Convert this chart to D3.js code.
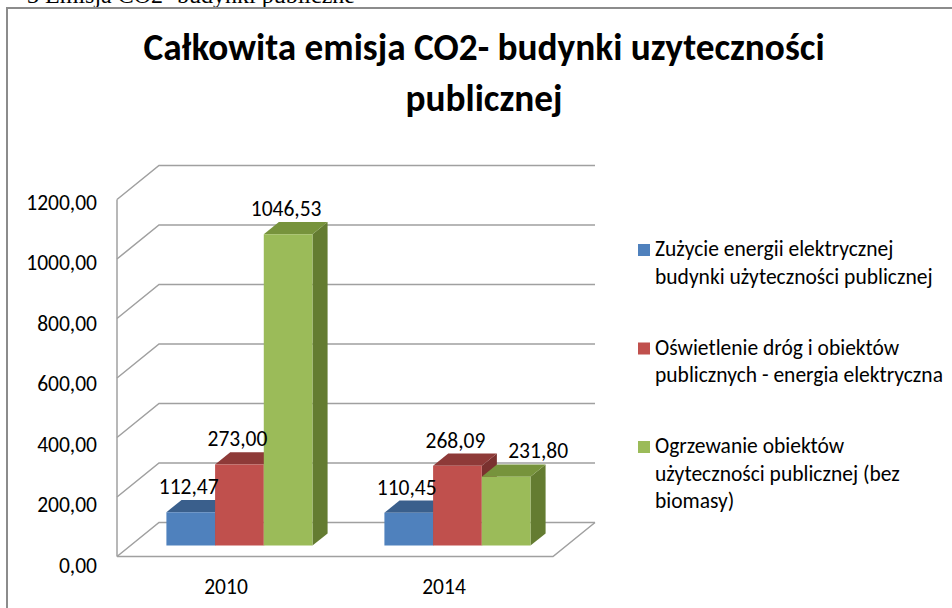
<!DOCTYPE html>
<html>
<head>
<meta charset="utf-8">
<style>
    body {
        margin: 0;
        background: #fff;
    }
    svg text {
        font-family: Carlito, Calibri, Lato, sans-serif;
        fill: #000;
    }
    .caption {
        font-family: "Liberation Serif", "Times New Roman", serif !important;
        font-size: 24px;
    }
    .title {
        font-size: 37.3px;
        font-weight: bold;
        text-anchor: middle;
    }
    .tick-label, .value-label, .cat-label {
        font-size: 21.5px;
    }
    .legend-label {
        font-size: 21.5px;
    }
    .grid {
        fill: none;
        stroke: #a0a0a0;
        stroke-width: 1.5;
    }
</style>
</head>
<body>
<svg id="viz" width="952" height="608"></svg>

<script src="https://cdnjs.cloudflare.com/ajax/libs/d3/7.8.5/d3.min.js"></script>
<script>
    // data
    var years = ['2010', '2014'];
    var seriesNames = [
        'Zużycie energii elektrycznej budynki użyteczności publicznej',
        'Oświetlenie dróg i obiektów publicznych - energia elektryczna',
        'Ogrzewanie obiektów użyteczności publicznej (bez biomasy)'
    ];
    var legendLines = [
        ['Zużycie energii elektrycznej', 'budynki użyteczności publicznej'],
        ['Oświetlenie dróg i obiektów', 'publicznych - energia elektryczna'],
        ['Ogrzewanie obiektów', 'użyteczności publicznej (bez', 'biomasy)']
    ];
    var elektrycznaBudynki = [112.47, 110.45];
    var oswietlenie = [273.00, 268.09];
    var ogrzewanie = [1046.53, 231.80];
    var seriesValues = [elektrycznaBudynki, oswietlenie, ogrzewanie];
    var yTicks = [0, 200, 400, 600, 800, 1000, 1200];
    var titleLines = ['Całkowita emisja CO2- budynki uzyteczności', 'publicznej'];

    // colors: front, top, side
    var colors = [
        { front: '#4f81bd', top: '#3a5f8c', side: '#30507a' },
        { front: '#c0504d', top: '#8e3a38', side: '#7a312f' },
        { front: '#9bbb59', top: '#77933c', side: '#647c31' }
    ];

    var svg = d3.select('#viz');
    var fmt = function(v) { return d3.format('.2f')(v).replace('.', ','); };

    // caption above the chart frame (cut off at the top)
    svg.append('text')
        .attr('class', 'caption')
        .attr('x', 355)
        .attr('y', 3)
        .attr('text-anchor', 'end')
        .text('3 Emisja CO2 -budynki publiczne');

    // chart frame
    svg.append('rect')
        .attr('x', 7)
        .attr('y', 8)
        .attr('width', 1000)
        .attr('height', 700)
        .attr('fill', '#fff')
        .attr('stroke', '#8c8c8c')
        .attr('stroke-width', 2);

    // title
    svg.selectAll('text.title')
        .data(titleLines)
        .enter()
        .append('text')
        .attr('class', 'title')
        .attr('x', 484)
        .attr('y', function(d, i) { return 60 + i * 51; })
        .text(function(d) { return d; });

    // 3d geometry
    var DX = 42, DY = -34;           // full depth offset of the walls
    var barD0 = 0.32, barD1 = 0.68;  // bar depth range inside the floor

    var x = d3.scaleBand()
        .domain(years)
        .range([117, 553])
        .paddingInner(0.33)
        .paddingOuter(0.165);

    var xs = d3.scaleBand()
        .domain(d3.range(seriesNames.length))
        .range([0, x.bandwidth()]);

    var y = d3.scaleLinear()
        .domain([0, 1200])
        .range([556.5, 199.5]);

    var yLabel = d3.scaleLinear()
        .domain([0, 1200])
        .range([565, 202]);

    function proj(px, py, d) {
        return [px + d * DX, py + d * DY];
    }

    function poly(points) {
        return 'M' + points.map(function(p) { return p.join(','); }).join('L') + 'Z';
    }

    var x0 = x.range()[0], x1 = x.range()[1];

    // back wall / side wall gridlines
    svg.selectAll('path.gridline')
        .data(yTicks)
        .enter()
        .append('path')
        .attr('class', 'grid gridline')
        .attr('d', function(v) {
            var a = proj(x0, y(v), 0), b = proj(x0, y(v), 1), c = proj(x1, y(v), 1);
            return 'M' + a + 'L' + b + 'L' + c;
        });

    // left front edge
    svg.append('path')
        .attr('class', 'grid')
        .attr('d', 'M' + [x0, y(0)] + 'L' + [x0, y(1200)]);

    // floor front edge
    svg.append('path')
        .attr('class', 'grid')
        .attr('d', 'M' + [x0, y(0)] + 'L' + [x1, y(0)] + 'L' + proj(x1, y(0), 1));

    // y tick labels
    svg.selectAll('text.tick-label')
        .data(yTicks)
        .enter()
        .append('text')
        .attr('class', 'tick-label')
        .attr('x', 97)
        .attr('y', function(v) { return yLabel(v); })
        .attr('dy', '0.35em')
        .attr('text-anchor', 'end')
        .text(fmt);

    // bars, drawn left to right so the next bar hides the previous side face
    var bars = [];
    years.forEach(function(yr, yi) {
        seriesValues.forEach(function(vals, si) {
            bars.push({ year: yr, s: si, v: vals[yi] });
        });
    });

    var barG = svg.selectAll('g.bar')
        .data(bars)
        .enter()
        .append('g')
        .attr('class', 'bar');

    barG.each(function(d) {
        var g = d3.select(this);
        var left = x(d.year) + xs(d.s);
        var right = left + xs.bandwidth();
        var top = y(d.v), bottom = y(0);

        // side face
        g.append('path')
            .attr('fill', colors[d.s].side)
            .attr('d', poly([proj(right, top, barD0), proj(right, top, barD1),
                             proj(right, bottom, barD1), proj(right, bottom, barD0)]));
        // top face
        g.append('path')
            .attr('fill', colors[d.s].top)
            .attr('d', poly([proj(left, top, barD0), proj(left, top, barD1),
                             proj(right, top, barD1), proj(right, top, barD0)]));
        // front face
        g.append('path')
            .attr('fill', colors[d.s].front)
            .attr('d', poly([proj(left, top, barD0), proj(right, top, barD0),
                             proj(right, bottom, barD0), proj(left, bottom, barD0)]));
    });

    // value labels (last one nudged right as in the original)
    var labelShift = { '2014-2': 34 };
    svg.selectAll('text.value-label')
        .data(bars)
        .enter()
        .append('text')
        .attr('class', 'value-label')
        .attr('text-anchor', 'middle')
        .attr('x', function(d) {
            var cx = x(d.year) + xs(d.s) + xs.bandwidth() / 2;
            return proj(cx, 0, barD0)[0] + (labelShift[d.year + '-' + d.s] || 0) - 2;
        })
        .attr('y', function(d) { return proj(0, y(d.v), barD1)[1] - 6; })
        .text(function(d) { return fmt(d.v); });

    // category labels
    svg.selectAll('text.cat-label')
        .data(years)
        .enter()
        .append('text')
        .attr('class', 'cat-label')
        .attr('text-anchor', 'middle')
        .attr('x', function(d) { return x(d) + x.bandwidth() / 2; })
        .attr('y', 594)
        .text(function(d) { return d; });

    // legend
    var legend = svg.selectAll('g.legend')
        .data(legendLines)
        .enter()
        .append('g')
        .attr('class', 'legend')
        .attr('transform', function(d, i) { return 'translate(638,' + (256 + i * 98.5) + ')'; });

    legend.append('rect')
        .attr('x', 0)
        .attr('y', -12)
        .attr('width', 12)
        .attr('height', 12)
        .attr('fill', function(d, i) { return colors[i].front; });

    legend.each(function(lines) {
        d3.select(this).selectAll('text')
            .data(lines)
            .enter()
            .append('text')
            .attr('class', 'legend-label')
            .attr('x', 17)
            .attr('y', function(d, i) { return i * 27.5; })
            .text(function(d) { return d; });
    });
</script>
</body>
</html>
